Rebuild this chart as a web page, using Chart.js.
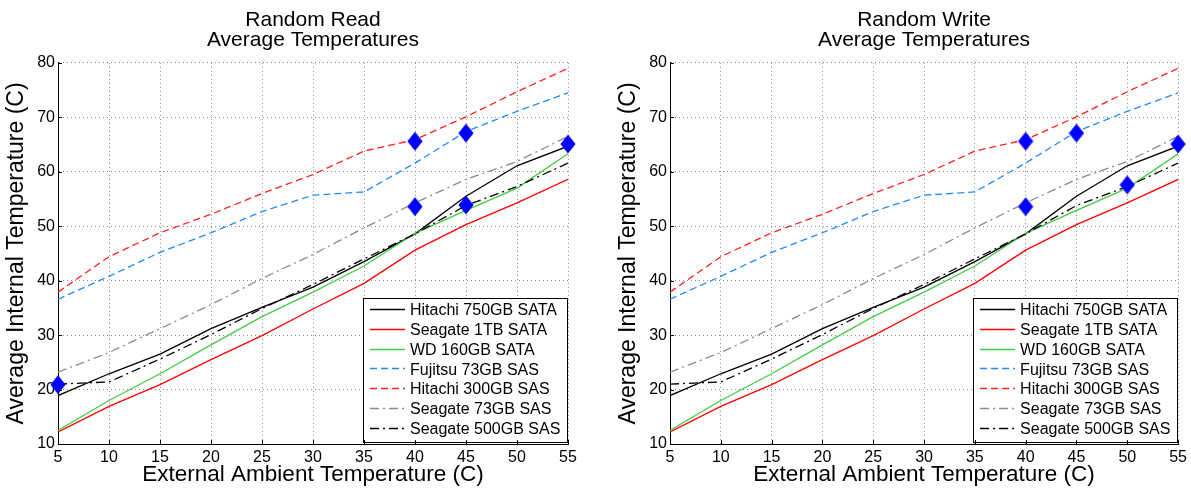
<!DOCTYPE html>
<html>
<head>
<meta charset="utf-8">
<script src="https://cdn.jsdelivr.net/npm/chart.js@4.4.1/dist/chart.umd.min.js"></script>
<style>
  html, body { margin: 0; padding: 0; background: #fff; overflow: hidden; }
  #wrap { position: relative; width: 1191px; height: 488px; }
  canvas { position: absolute; top: 0; }
  #readChart { left: 0; }
  #writeChart { left: 612px; }
</style>
</head>
<body>
<div id="wrap">
  <canvas id="readChart" width="595" height="488"></canvas>
  <canvas id="writeChart" width="579" height="488"></canvas>
</div>
<script>
// External ambient temperature (C) at which each drive was measured
const ambient = [5, 10, 15, 20, 25, 30, 35, 40, 45, 50, 55];

// Average internal drive temperature (C) per drive model
const hitachi750GBSata = [18.9, 22.9, 26.5, 31.2, 35.1, 38.8, 43.5, 48.6, 55.5, 61.1, 64.7];
const seagate1TBSata   = [12.2, 16.9, 20.9, 25.5, 29.9, 34.8, 39.5, 45.6, 50.3, 54.3, 58.6];
const wd160GBSata      = [12.5, 18.0, 22.9, 28.2, 33.4, 37.9, 42.7, 48.7, 52.9, 57.0, 63.3];
const fujitsu73GBSas   = [36.6, 40.8, 45.2, 48.8, 52.7, 55.7, 56.3, 61.6, 67.4, 71.1, 74.5];
const hitachi300GBSas  = [37.9, 44.4, 48.8, 52.2, 56.0, 59.5, 63.8, 65.9, 70.1, 74.7, 79.0];
const seagate73GBSas   = [23.2, 26.8, 31.2, 35.6, 40.4, 44.8, 49.7, 54.3, 58.6, 61.9, 66.5];
const seagate500GBSas  = [21.0, 21.4, 25.6, 30.1, 34.9, 39.3, 44.0, 48.6, 53.8, 57.3, 61.6];

// Highlighted readings (diamonds)
const readMarkX  = [5, 40, 40, 45, 45, 55];
const readMarkY  = [20.9, 65.6, 53.6, 67.1, 53.9, 65.1];
const writeMarkX = [40, 40, 45, 50, 55];
const writeMarkY = [65.6, 53.6, 67.1, 57.6, 65.1];

// Axis tick values
const xTicks = [5, 10, 15, 20, 25, 30, 35, 40, 45, 50, 55];
const yTicks = [10, 20, 30, 40, 50, 60, 70, 80];

const FONT = "'Liberation Sans', Arial, Helvetica, sans-serif";

const seriesList = [
  { label: 'Hitachi 750GB SATA', values: hitachi750GBSata, color: '#000000', dash: [] },
  { label: 'Seagate 1TB SATA',   values: seagate1TBSata,   color: '#ff0000', dash: [] },
  { label: 'WD 160GB SATA',      values: wd160GBSata,      color: '#44cc44', dash: [] },
  { label: 'Fujitsu 73GB SAS',   values: fujitsu73GBSas,   color: '#1e8cff', dash: [7, 4] },
  { label: 'Hitachi 300GB SAS',  values: hitachi300GBSas,  color: '#ff2020', dash: [7, 4] },
  { label: 'Seagate 73GB SAS',   values: seagate73GBSas,   color: '#8c8c8c', dash: [9, 4, 2, 4] },
  { label: 'Seagate 500GB SAS',  values: seagate500GBSas,  color: '#000000', dash: [9, 4, 2, 4] }
];

// Diamond marker image, a bit taller than wide
function makeDiamond() {
  const c = document.createElement('canvas');
  c.width = 16; c.height = 20;
  const g = c.getContext('2d');
  g.fillStyle = '#0000ff';
  g.beginPath();
  g.moveTo(8, 0.5); g.lineTo(15.6, 10); g.lineTo(8, 19.5); g.lineTo(0.4, 10);
  g.closePath();
  g.fill();
  return c;
}
const diamond = makeDiamond();

// Legend box drawn inside the plot, bottom-right corner
const insideLegend = {
  id: 'insideLegend',
  afterDatasetsDraw(chart) {
    const { ctx, chartArea } = chart;
    const items = chart.data.datasets.filter(d => !d.isMarker);
    const w = 205, h = 144;
    const right = chartArea.right, bottom = chartArea.bottom - 2;
    const left = right - w, top = bottom - h;
    ctx.save();
    ctx.fillStyle = '#fff';
    ctx.fillRect(left, top, w, h);
    ctx.strokeStyle = '#000';
    ctx.lineWidth = 1;
    ctx.setLineDash([]);
    ctx.strokeRect(Math.round(left) + 0.5, Math.round(top) + 0.5, w - 1, h);
    ctx.font = '16px ' + FONT;
    ctx.textBaseline = 'middle';
    ctx.textAlign = 'left';
    items.forEach((ds, i) => {
      const y = top + 13 + i * 19.75;
      ctx.strokeStyle = ds.borderColor;
      ctx.lineWidth = 1.3;
      ctx.setLineDash(ds.borderDash || []);
      ctx.beginPath();
      ctx.moveTo(left + 7, Math.round(y - 2) + 0.5);
      ctx.lineTo(left + 42, Math.round(y - 2) + 0.5);
      ctx.stroke();
      ctx.setLineDash([]);
      ctx.fillStyle = '#000';
      ctx.fillText(ds.label, left + 47, y);
    });
    ctx.restore();
  }
};

// Short inward tick marks on the left and bottom axes
const innerTicks = {
  id: 'innerTicks',
  afterDraw(chart) {
    const { ctx, chartArea, scales } = chart;
    ctx.save();
    ctx.strokeStyle = '#000';
    ctx.lineWidth = 1;
    ctx.setLineDash([]);
    ctx.beginPath();
    scales.x.ticks.forEach(t => {
      const px = Math.round(scales.x.getPixelForValue(t.value)) + 0.5;
      ctx.moveTo(px, chartArea.bottom);
      ctx.lineTo(px, chartArea.bottom - 4);
    });
    scales.y.ticks.forEach(t => {
      const py = Math.round(scales.y.getPixelForValue(t.value)) + 0.5;
      ctx.moveTo(chartArea.left, py);
      ctx.lineTo(chartArea.left + 4, py);
    });
    ctx.stroke();
    ctx.restore();
  }
};

function buildChart(canvasId, titleLines, markX, markY, padRight) {
  const datasets = [{
    label: 'markers',
    isMarker: true,
    data: markX.map((x, i) => ({ x: x, y: markY[i] })),
    showLine: false,
    pointStyle: diamond,
    pointRadius: 8,
    pointHoverRadius: 8,
    clip: false,
    order: 0
  }];
  seriesList.forEach((s, i) => {
    datasets.push({
      label: s.label,
      data: ambient.map((x, k) => ({ x: x, y: s.values[k] })),
      borderColor: s.color,
      borderDash: s.dash,
      borderWidth: 1.3,
      pointRadius: 0,
      pointHoverRadius: 0,
      tension: 0,
      fill: false,
      order: 10 - i
    });
  });

  return new Chart(document.getElementById(canvasId), {
    type: 'line',
    data: { datasets: datasets },
    plugins: [insideLegend, innerTicks],
    options: {
      responsive: false,
      animation: false,
      events: [],
      layout: { padding: { left: 0, right: padRight, top: 0, bottom: 0 } },
      plugins: {
        legend: { display: false },
        tooltip: { enabled: false },
        title: {
          display: true,
          text: titleLines,
          fullSize: false,
          color: '#000',
          font: { family: FONT, size: 21, weight: 'normal', lineHeight: 0.95 },
          padding: { top: 10, bottom: 13 }
        }
      },
      scales: {
        x: {
          type: 'linear',
          min: 5, max: 55,
          afterBuildTicks(scale) { scale.ticks = xTicks.map(v => ({ value: v })); },
          afterFit(scale) { scale.height = 44; },
          ticks: { color: '#000', font: { family: FONT, size: 16 }, padding: 4, maxRotation: 0, autoSkip: false },
          grid: { color: '#8a8a8a', lineWidth: 1, drawTicks: false },
          border: { display: true, color: '#000', width: 1, dash: [1, 3] },
          title: {
            display: true,
            text: 'External Ambient Temperature (C)',
            color: '#000',
            font: { family: FONT, size: 22.5, lineHeight: 1 },
            padding: { top: 0, bottom: 2 }
          }
        },
        y: {
          type: 'linear',
          min: 10, max: 80,
          afterBuildTicks(scale) { scale.ticks = yTicks.map(v => ({ value: v })); },
          afterFit(scale) { scale.width = 58; },
          ticks: { color: '#000', font: { family: FONT, size: 16 }, padding: 3, autoSkip: false },
          grid: { color: '#8a8a8a', lineWidth: 1, drawTicks: false },
          border: { display: true, color: '#000', width: 1, dash: [1, 3] },
          title: {
            display: true,
            text: 'Average Internal Temperature (C)',
            color: '#000',
            font: { family: FONT, size: 23, lineHeight: 1 },
            padding: { top: 5.5, bottom: 0 }
          }
        }
      }
    }
  });
}

buildChart('readChart', ['Random Read', 'Average Temperatures'], readMarkX, readMarkY, 27);
buildChart('writeChart', ['Random Write', 'Average Temperatures'], writeMarkX, writeMarkY, 11);
</script>
</body>
</html>
